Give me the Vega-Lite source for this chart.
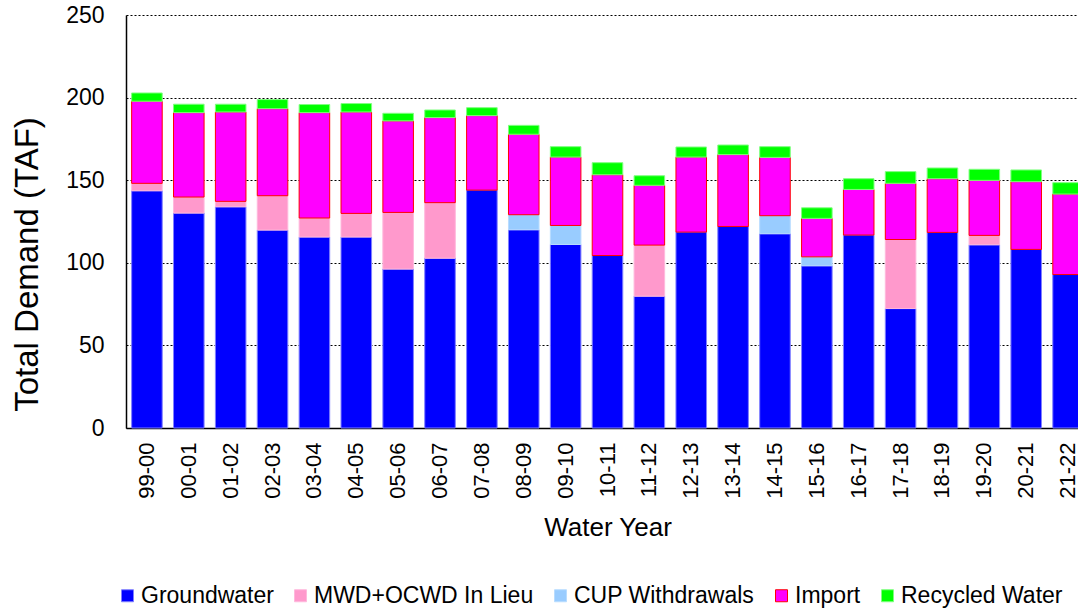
{
  "$schema": "https://vega.github.io/schema/vega-lite/v6.json",
  "width": 952,
  "height": 413,
  "autosize": {"type": "none"},
  "padding": {"left": 126, "top": 15, "right": 0, "bottom": 183},
  "background": "white",
  "config": {"view": {"stroke": null}, "font": "Liberation Sans"},
  "data": {"values": [
    {"Year": "99-00", "Source": "Groundwater", "TAF": 143.6},
    {"Year": "99-00", "Source": "MWD+OCWD In Lieu", "TAF": 4.5},
    {"Year": "99-00", "Source": "Import", "TAF": 49.7},
    {"Year": "99-00", "Source": "Recycled Water", "TAF": 5.0},
    {"Year": "00-01", "Source": "Groundwater", "TAF": 130.1},
    {"Year": "00-01", "Source": "MWD+OCWD In Lieu", "TAF": 9.7},
    {"Year": "00-01", "Source": "Import", "TAF": 51.1},
    {"Year": "00-01", "Source": "Recycled Water", "TAF": 5.1},
    {"Year": "01-02", "Source": "Groundwater", "TAF": 133.9},
    {"Year": "01-02", "Source": "MWD+OCWD In Lieu", "TAF": 3.3},
    {"Year": "01-02", "Source": "Import", "TAF": 54.1},
    {"Year": "01-02", "Source": "Recycled Water", "TAF": 4.7},
    {"Year": "02-03", "Source": "Groundwater", "TAF": 119.8},
    {"Year": "02-03", "Source": "MWD+OCWD In Lieu", "TAF": 20.8},
    {"Year": "02-03", "Source": "Import", "TAF": 52.7},
    {"Year": "02-03", "Source": "Recycled Water", "TAF": 5.5},
    {"Year": "03-04", "Source": "Groundwater", "TAF": 115.6},
    {"Year": "03-04", "Source": "MWD+OCWD In Lieu", "TAF": 11.5},
    {"Year": "03-04", "Source": "Import", "TAF": 63.8},
    {"Year": "03-04", "Source": "Recycled Water", "TAF": 4.9},
    {"Year": "04-05", "Source": "Groundwater", "TAF": 115.6},
    {"Year": "04-05", "Source": "MWD+OCWD In Lieu", "TAF": 14.3},
    {"Year": "04-05", "Source": "Import", "TAF": 61.4},
    {"Year": "04-05", "Source": "Recycled Water", "TAF": 5.1},
    {"Year": "05-06", "Source": "Groundwater", "TAF": 96.2},
    {"Year": "05-06", "Source": "MWD+OCWD In Lieu", "TAF": 34.3},
    {"Year": "05-06", "Source": "Import", "TAF": 55.4},
    {"Year": "05-06", "Source": "Recycled Water", "TAF": 4.6},
    {"Year": "06-07", "Source": "Groundwater", "TAF": 102.8},
    {"Year": "06-07", "Source": "MWD+OCWD In Lieu", "TAF": 33.6},
    {"Year": "06-07", "Source": "Import", "TAF": 51.5},
    {"Year": "06-07", "Source": "Recycled Water", "TAF": 4.6},
    {"Year": "07-08", "Source": "Groundwater", "TAF": 144.0},
    {"Year": "07-08", "Source": "Import", "TAF": 45.1},
    {"Year": "07-08", "Source": "Recycled Water", "TAF": 4.8},
    {"Year": "08-09", "Source": "Groundwater", "TAF": 120.0},
    {"Year": "08-09", "Source": "CUP Withdrawals", "TAF": 9.1},
    {"Year": "08-09", "Source": "Import", "TAF": 48.7},
    {"Year": "08-09", "Source": "Recycled Water", "TAF": 5.4},
    {"Year": "09-10", "Source": "Groundwater", "TAF": 111.1},
    {"Year": "09-10", "Source": "CUP Withdrawals", "TAF": 11.5},
    {"Year": "09-10", "Source": "Import", "TAF": 41.4},
    {"Year": "09-10", "Source": "Recycled Water", "TAF": 6.3},
    {"Year": "10-11", "Source": "Groundwater", "TAF": 104.4},
    {"Year": "10-11", "Source": "Import", "TAF": 48.9},
    {"Year": "10-11", "Source": "Recycled Water", "TAF": 7.3},
    {"Year": "11-12", "Source": "Groundwater", "TAF": 79.8},
    {"Year": "11-12", "Source": "MWD+OCWD In Lieu", "TAF": 30.9},
    {"Year": "11-12", "Source": "Import", "TAF": 36.2},
    {"Year": "11-12", "Source": "Recycled Water", "TAF": 5.8},
    {"Year": "12-13", "Source": "Groundwater", "TAF": 118.6},
    {"Year": "12-13", "Source": "Import", "TAF": 45.4},
    {"Year": "12-13", "Source": "Recycled Water", "TAF": 6.1},
    {"Year": "13-14", "Source": "Groundwater", "TAF": 122.0},
    {"Year": "13-14", "Source": "Import", "TAF": 43.5},
    {"Year": "13-14", "Source": "Recycled Water", "TAF": 5.8},
    {"Year": "14-15", "Source": "Groundwater", "TAF": 117.6},
    {"Year": "14-15", "Source": "CUP Withdrawals", "TAF": 10.9},
    {"Year": "14-15", "Source": "Import", "TAF": 35.3},
    {"Year": "14-15", "Source": "Recycled Water", "TAF": 6.5},
    {"Year": "15-16", "Source": "Groundwater", "TAF": 98.2},
    {"Year": "15-16", "Source": "CUP Withdrawals", "TAF": 5.4},
    {"Year": "15-16", "Source": "Import", "TAF": 23.3},
    {"Year": "15-16", "Source": "Recycled Water", "TAF": 6.4},
    {"Year": "16-17", "Source": "Groundwater", "TAF": 116.8},
    {"Year": "16-17", "Source": "Import", "TAF": 27.6},
    {"Year": "16-17", "Source": "Recycled Water", "TAF": 6.5},
    {"Year": "17-18", "Source": "Groundwater", "TAF": 72.3},
    {"Year": "17-18", "Source": "MWD+OCWD In Lieu", "TAF": 41.8},
    {"Year": "17-18", "Source": "Import", "TAF": 34.0},
    {"Year": "17-18", "Source": "Recycled Water", "TAF": 7.1},
    {"Year": "18-19", "Source": "Groundwater", "TAF": 118.4},
    {"Year": "18-19", "Source": "Import", "TAF": 32.5},
    {"Year": "18-19", "Source": "Recycled Water", "TAF": 6.5},
    {"Year": "19-20", "Source": "Groundwater", "TAF": 110.9},
    {"Year": "19-20", "Source": "MWD+OCWD In Lieu", "TAF": 5.7},
    {"Year": "19-20", "Source": "Import", "TAF": 33.3},
    {"Year": "19-20", "Source": "Recycled Water", "TAF": 6.7},
    {"Year": "20-21", "Source": "Groundwater", "TAF": 108.1},
    {"Year": "20-21", "Source": "Import", "TAF": 41.0},
    {"Year": "20-21", "Source": "Recycled Water", "TAF": 7.1},
    {"Year": "21-22", "Source": "Groundwater", "TAF": 92.9},
    {"Year": "21-22", "Source": "Import", "TAF": 48.7},
    {"Year": "21-22", "Source": "Recycled Water", "TAF": 6.9}
  ]},
  "transform": [
    {"calculate": "indexof(['Groundwater','MWD+OCWD In Lieu','CUP Withdrawals','Import','Recycled Water'], datum.Source)", "as": "ord"}
  ],
  "mark": {"type": "bar", "strokeWidth": 1},
  "encoding": {
    "x": {
      "field": "Year", "type": "nominal", "sort": null,
      "scale": {"range": [0, 963], "paddingInner": 0.27, "paddingOuter": 0.135},
      "axis": {
        "title": "Water Year", "titleFontSize": 26, "titleFontWeight": "normal", "titleColor": "black",
        "titleY": 99, "titleBaseline": "middle",
        "labelAngle": 270, "labelFontSize": 22, "labelColor": "black", "labelPadding": 14,
        "ticks": false, "domainColor": "black", "domainWidth": 1.5, "grid": false
      }
    },
    "y": {
      "field": "TAF", "type": "quantitative", "stack": "zero",
      "scale": {"domain": [0, 250], "nice": false},
      "axis": {
        "title": "Total Demand (TAF)", "titleFontSize": 33, "titleFontWeight": "normal", "titleColor": "black",
        "titleX": -99, "titleY": 249, "titleBaseline": "middle",
        "values": [0, 50, 100, 150, 200, 250],
        "labelFontSize": 23, "labelColor": "black", "labelPadding": 22,
        "ticks": false, "domainColor": "black", "domainWidth": 1.5,
        "grid": true, "gridColor": "black", "gridDash": [2, 2], "gridWidth": 1
      }
    },
    "fill": {
      "field": "Source", "type": "nominal",
      "scale": {"domain": ["Groundwater", "MWD+OCWD In Lieu", "CUP Withdrawals", "Import", "Recycled Water"],
                "range": ["#0000ff", "#ff99cc", "#99ccff", "#ff00ff", "#00ff00"]},
      "legend": {"orient": "none", "legendX": -10, "legendY": 569, "direction": "horizontal", "title": null,
                 "labelFontSize": 23, "labelColor": "black", "labelLimit": 0, "symbolType": "square", "symbolSize": 144,
                 "symbolStrokeWidth": 1, "columnPadding": 15, "labelOffset": 2}
    },
    "stroke": {
      "field": "Source", "type": "nominal",
      "scale": {"domain": ["Groundwater", "MWD+OCWD In Lieu", "CUP Withdrawals", "Import", "Recycled Water"],
                "range": ["#8080ff", "#ffb8dc", "#b8dcff", "#ff0000", "#80ff80"]},
      "legend": {"orient": "none", "legendX": -10, "legendY": 569, "direction": "horizontal", "title": null,
                 "labelFontSize": 23, "labelColor": "black", "labelLimit": 0, "symbolType": "square", "symbolSize": 144,
                 "symbolStrokeWidth": 1, "columnPadding": 15, "labelOffset": 2}
    },
    "order": {"field": "ord", "type": "quantitative"}
  }
}
